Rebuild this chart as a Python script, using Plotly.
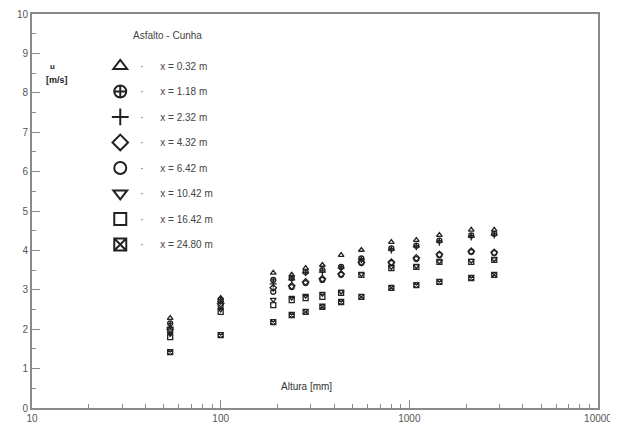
import plotly.graph_objects as go

altura = [54, 100, 190, 238, 282, 346, 435, 557, 803, 1089, 1443, 2129, 2818]

series_names = ["x = 0.32 m", "x = 1.18 m", "x = 2.32 m", "x = 4.32 m",
                "x = 6.42 m", "x = 10.42 m", "x = 16.42 m", "x = 24.80 m"]
u_032 = [2.28, 2.79, 3.43, 3.38, 3.55, 3.63, 3.88, 4.01, 4.21, 4.26, 4.39, 4.52, 4.52]
u_118 = [2.15, 2.75, 3.25, 3.30, 3.45, 3.50, 3.58, 3.80, 4.05, 4.12, 4.25, 4.38, 4.42]
u_232 = [2.05, 2.70, 3.15, 3.25, 3.43, 3.45, 3.55, 3.76, 4.01, 4.09, 4.21, 4.34, 4.39]
u_432 = [2.00, 2.65, 3.05, 3.10, 3.20, 3.28, 3.40, 3.70, 3.70, 3.81, 3.90, 3.98, 3.95]
u_642 = [1.95, 2.60, 2.95, 3.07, 3.17, 3.25, 3.38, 3.68, 3.68, 3.78, 3.88, 3.96, 3.93]
u_1042 = [1.88, 2.50, 2.75, 2.80, 2.85, 2.90, 2.95, 3.40, 3.58, 3.60, 3.72, 3.74, 3.78]
u_1642 = [1.80, 2.44, 2.61, 2.74, 2.79, 2.82, 2.92, 3.38, 3.55, 3.58, 3.71, 3.71, 3.76]
u_2480 = [1.42, 1.85, 2.18, 2.36, 2.44, 2.57, 2.69, 2.82, 3.05, 3.12, 3.20, 3.30, 3.38]
all_u = [u_032, u_118, u_232, u_432, u_642, u_1042, u_1642, u_2480]
symbols = ["triangle-up-open", "circle-cross-open", "cross-thin-open", "diamond-open",
           "circle-open", "triangle-down-open", "square-open", "square-x-open"]

x_tickvals = [10, 100, 1000, 10000]
x_ticktext = ["10", "100", "1000", "10000"]
x_minor = [m * d for d in (10, 100, 1000) for m in range(2, 10)]

ink = "#222222"
axc = "#8a8a8a"
font = "Liberation Sans, Arial, sans-serif"

fig = go.Figure()
for i, (name, u, sym) in enumerate(zip(series_names, all_u, symbols)):
    fig.add_trace(go.Scatter(
        x=altura, y=u, mode="markers", name="\u00b7      " + name,
        legendgroup=f"g{i}",
        marker=dict(symbol=sym, size=5, color=ink, line=dict(color=ink, width=1.3)),
    ))

# page body has an 8px margin; figure sized so the plot box lands at 32..598 x 14..408
fig.update_layout(
    width=610, height=418,
    margin=dict(l=24, r=20, t=6, b=18, autoexpand=False),
    paper_bgcolor="white", plot_bgcolor="white",
    font=dict(family=font, size=10, color="#444444"),
    showlegend=True,
    legend=dict(
        x=0.1206, y=0.905, xanchor="left", yanchor="top",
        bgcolor="rgba(0,0,0,0)", borderwidth=0,
        font=dict(size=10, color="#444444"),
        tracegroupgap=6.5, itemsizing="constant",
    ),
    xaxis=dict(
        type="log", range=[1, 4], automargin=False,
        tickmode="array", tickvals=x_tickvals, ticktext=x_ticktext,
        ticks="inside", ticklen=8, tickcolor=axc, tickwidth=1,
        showline=True, linecolor=axc, linewidth=2, mirror=True,
        showgrid=False, zeroline=False,
        tickfont=dict(size=10, color="#555555"),
        minor=dict(tickmode="array", tickvals=x_minor, ticks="inside",
                   ticklen=4, tickcolor=axc, showgrid=False),
    ),
    yaxis=dict(
        range=[0, 10], dtick=1, tick0=0, automargin=False,
        ticks="inside", ticklen=8, tickcolor=axc, tickwidth=1,
        showline=True, linecolor=axc, linewidth=2, mirror=True,
        showgrid=False, zeroline=False,
        tickfont=dict(size=10, color="#555555"),
        minor=dict(dtick=0.5, ticks="inside", ticklen=4, tickcolor=axc, showgrid=False),
    ),
    annotations=[
        dict(text="Asfalto - Cunha", x=0.175, y=0.965, xref="paper", yref="paper",
             showarrow=False, font=dict(size=10, color="#444444")),
        dict(text="<b>u</b>", x=0.028, y=0.883, xref="paper", yref="paper",
             showarrow=False, font=dict(size=8, color="#222222")),
        dict(text="<b>[m/s]</b>", x=0.021, y=0.851, xref="paper", yref="paper",
             showarrow=False, font=dict(size=9, color="#222222")),
        dict(text="Altura [mm]", x=0.485, y=0.035, xref="paper", yref="paper",
             showarrow=False, font=dict(size=10, color="#333333")),
    ],
)

fig.write_html("out.html")
